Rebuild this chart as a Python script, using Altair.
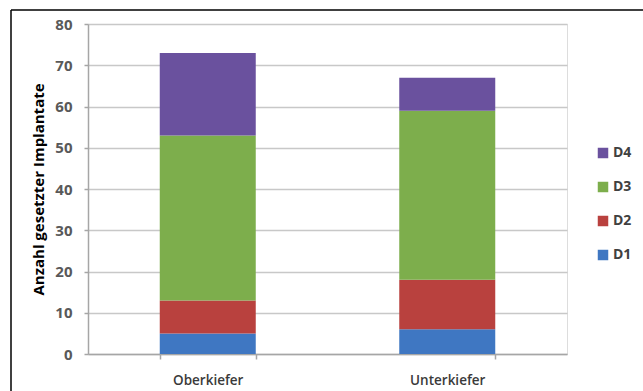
import altair as alt
import pandas as pd

categories = ["Oberkiefer", "Unterkiefer"]
series = ["D1", "D2", "D3", "D4"]
values = {
    "D1": [5, 6],
    "D2": [8, 12],
    "D3": [40, 41],
    "D4": [20, 8],
}
colors = {"D1": "#3f77c2", "D2": "#b9413e", "D3": "#7dae4c", "D4": "#6a519e"}
y_ticks = [0, 10, 20, 30, 40, 50, 60, 70, 80]

rows = []
for s_i, s in enumerate(series):
    for c_i, c in enumerate(categories):
        rows.append({"Kiefer": c, "Klasse": s, "Anzahl": values[s][c_i], "order": s_i})
df = pd.DataFrame(rows)

legend_order = list(reversed(series))
FONT = "Open Sans"

bars = alt.Chart(df).mark_bar(size=96).encode(
    x=alt.X("Kiefer:N", sort=categories,
            scale=alt.Scale(paddingInner=0.6, paddingOuter=0.3),
            axis=alt.Axis(title=None, labelAngle=0, labelFont=FONT, labelFontSize=13.5,
                          labelColor="#3a3a3a", labelFontWeight=600,
                          domainColor="#a6a6a6", domainWidth=1.5,
                          tickColor="#a6a6a6", tickSize=5, tickWidth=1.5,
                          tickBand="extent", labelPadding=14, grid=False)),
    y=alt.Y("Anzahl:Q", stack="zero",
            scale=alt.Scale(domain=[0, 80], nice=False),
            axis=alt.Axis(title="Anzahl gesetzter Implantate", values=y_ticks,
                          titleFont=FONT, titleFontSize=15, titleFontWeight="bold",
                          titleColor="#000000", titlePadding=8,
                          labelFont=FONT, labelFontSize=15, labelFontWeight="bold",
                          labelColor="#595959", labelPadding=12,
                          domainColor="#a6a6a6", domainWidth=1.5,
                          tickColor="#a6a6a6", tickSize=4, tickWidth=1.5,
                          gridColor="#c8c8c8", gridWidth=1.5)),
    color=alt.Color("Klasse:N",
                    scale=alt.Scale(domain=legend_order,
                                    range=[colors[s] for s in legend_order]),
                    legend=alt.Legend(title=None, orient="none", legendX=508, legendY=122,
                                      symbolType="square", symbolSize=110,
                                      symbolStrokeWidth=0,
                                      labelFont=FONT, labelFontSize=14,
                                      labelFontWeight="bold", labelColor="#404040",
                                      rowPadding=20, labelOffset=3)),
    order=alt.Order("order:Q", sort="ascending"),
)

frame_v = alt.Chart().mark_rule(color="#000000", strokeWidth=1.5).encode(
    x=alt.value(-77), y=alt.value(-14), y2=alt.value(380)
)
frame_h = alt.Chart().mark_rule(color="#000000", strokeWidth=1.5).encode(
    x=alt.value(-77), x2=alt.value(560), y=alt.value(-14)
)

chart = alt.layer(bars, frame_v, frame_h).properties(
    width=479, height=330,
    autosize=alt.AutoSizeParams(type="none"),
    padding={"left": 88, "top": 24, "right": 76, "bottom": 37},
).configure_view(stroke=None).configure(background="white")

chart.save("out.html", embed_options={"renderer": "svg", "actions": False})
